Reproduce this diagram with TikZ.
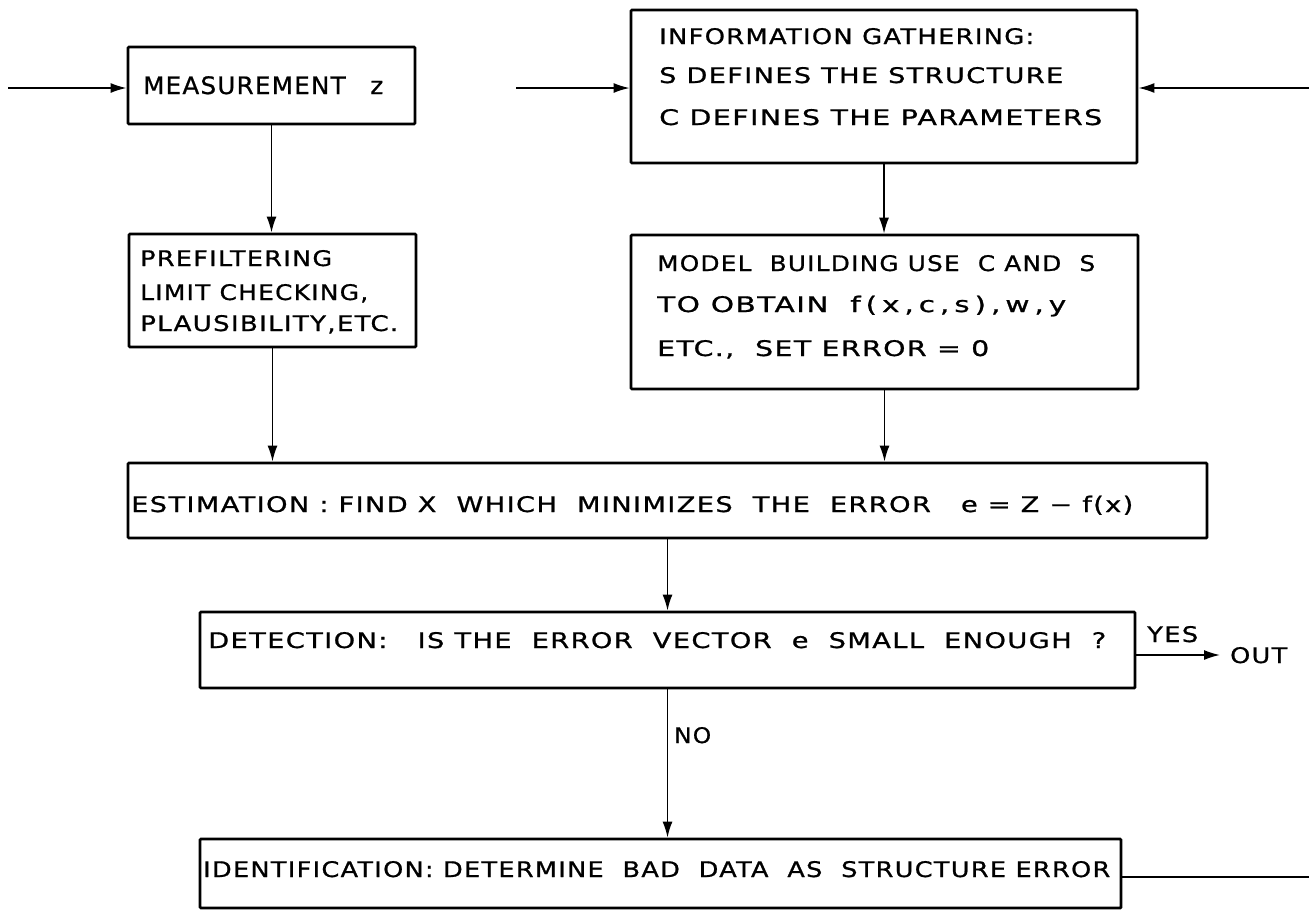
\documentclass[tikz,border=0pt]{standalone}
\usepackage{fontspec}
\usepackage{graphicx}
\setmainfont{DejaVu Sans}[LetterSpace=5.0, FakeBold=0.8]
\usetikzlibrary{arrows.meta}
% stretch one line of lettering to a given width, keeping its height
\newcommand{\fitline}[2]{\resizebox{#1}{\height}{#2}}
\begin{document}
\begin{tikzpicture}[x=1pt,y=-1pt,
  box/.style={draw, line width=2.8pt, rounded corners=1pt, inner sep=0pt},
  txt/.style={anchor=base west, inner sep=0pt, font=\fontsize{21.5}{25}\selectfont},
  bigtxt/.style={anchor=base west, inner sep=0pt, font=\fontsize{24}{28}\selectfont},
  flow/.style={line width=1.6pt, -{Latex[length=16pt,width=10pt]}},
  plain/.style={line width=1.6pt},
]
\useasboundingbox (0,0) rectangle (1309,911);

% boxes
\node[box, minimum width=287pt, minimum height=77pt]  (meas)  at (271.5,85.5) {};
\node[box, minimum width=506pt, minimum height=153pt] (info)  at (884,86.5) {};
\node[box, minimum width=287pt, minimum height=113pt] (pref)  at (272.5,290.5) {};
\node[box, minimum width=507pt, minimum height=154pt] (model) at (884.5,312) {};
\node[box, minimum width=1079pt, minimum height=75pt] (est)   at (667.5,500.5) {};
\node[box, minimum width=935pt, minimum height=76pt]  (det)   at (667.5,650) {};
\node[box, minimum width=921pt, minimum height=69pt]  (ident) at (660.5,873.5) {};

% lettering
\node[bigtxt] (tMeas) at (143,94) {\fitline{240pt}{MEASUREMENT\quad z}};

\node[txt] (tInfoA) at (659,44)  {\fitline{375pt}{INFORMATION GATHERING:}};
\node[txt] (tInfoB) at (659,83)  {\fitline{404pt}{S DEFINES THE STRUCTURE}};
\node[txt] (tInfoC) at (659,125) {\fitline{443pt}{C DEFINES THE PARAMETERS}};

\node[txt] (tPrefA) at (140,266) {\fitline{192pt}{PREFILTERING}};
\node[txt] (tPrefB) at (140,300) {\fitline{228pt}{LIMIT CHECKING,}};
\node[txt] (tPrefC) at (140,331) {\fitline{258pt}{PLAUSIBILITY,ETC.}};

\node[txt] (tModA) at (657,271) {\fitline{438pt}{MODEL\ \ BUILDING USE\ \ C AND\ \ S}};
\node[txt] (tModB) at (657,312) {\fitline{409pt}{TO OBTAIN\ \ f\,(\,x\,,\,c\,,\,s\,)\,,\,w\,,\,y}};
\node[txt] (tModC) at (657,356) {\fitline{332pt}{ETC.,\ \ SET ERROR = 0}};

\node[txt] (tEst) at (131,512) {\fitline{1002pt}{ESTIMATION : FIND X\ \ WHICH\ \ MINIMIZES\ \ THE\ \ ERROR\ \ \ e\ = Z − f(x)}};
\node[txt] (tDet) at (208,648) {\fitline{898pt}{DETECTION:\ \ \ IS THE\ \ ERROR\ \ VECTOR\ \ e\ \ SMALL\ \ ENOUGH\ \ ?}};
\node[txt] (tIdent) at (203,877) {\fitline{907pt}{IDENTIFICATION: DETERMINE\ \ BAD\ \ DATA\ \ AS\ \ STRUCTURE ERROR}};

\node[txt] (tYes) at (1147,642) {\fitline{51pt}{YES}};
\node[txt] (tOut) at (1230,663) {\fitline{57pt}{OUT}};
\node[txt] (tNo)  at (674,743)  {\fitline{37pt}{NO}};

% connectors
\coordinate (inL) at (8,88);
\coordinate (inM) at (516,88);
\coordinate (inR) at (1309,88);
\coordinate (yesEnd) at (1220,655);
\coordinate (fbR) at (1309,877);

\draw[flow] (inL) -- (inL -| meas.west);
\draw[flow] (inM) -- (inM -| info.west);
\draw[flow] (inR) -- (inR -| info.east);
\draw[flow] (meas.south) -- (meas.south |- pref.north);
\draw[flow] (pref.south) -- (pref.south |- est.north);
\draw[flow] (info.south) -- (info.south |- model.north);
\draw[flow] (model.south) -- (model.south |- est.north);
\draw[flow] (est.south) -- (est.south |- det.north);
\draw[flow] (det.south) -- (det.south |- ident.north);
\draw[flow] (yesEnd -| det.east) -- (yesEnd);
\draw[plain] (fbR -| ident.east) -- (fbR);
\end{tikzpicture}
\end{document}
